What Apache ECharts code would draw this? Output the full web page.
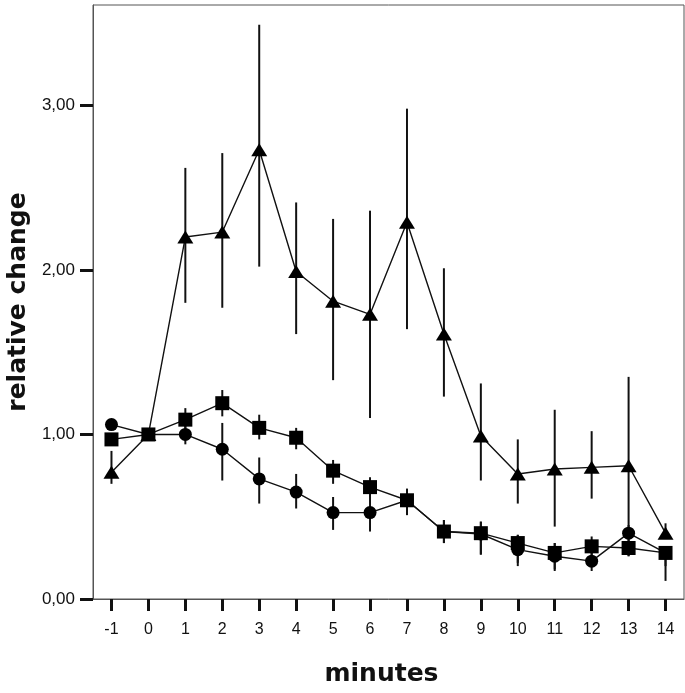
<!DOCTYPE html>
<html>
<head>
<meta charset="utf-8">
<script src="https://cdn.jsdelivr.net/npm/echarts@6/dist/echarts.min.js"></script>
<style>
html,body{margin:0;padding:0;background:#fff;}
#chart{width:685px;height:693px;}
</style>
</head>
<body>
<div id="chart"></div>
<script>
const minutes = ['-1','0','1','2','3','4','5','6','7','8','9','10','11','12','13','14'];

const triangleMean = [0.77, 1.00, 2.20, 2.23, 2.73, 1.99, 1.81, 1.73, 2.29, 1.61, 0.99, 0.76, 0.79, 0.80, 0.81, 0.40];
const triangleLow  = [0.70, 1.00, 1.80, 1.77, 2.02, 1.61, 1.33, 1.10, 1.64, 1.23, 0.72, 0.58, 0.44, 0.61, 0.26, 0.38];
const triangleHigh = [0.90, 1.00, 2.62, 2.71, 3.49, 2.41, 2.31, 2.36, 2.98, 2.01, 1.31, 0.97, 1.15, 1.02, 1.35, 0.46];

const squareMean = [0.97, 1.00, 1.09, 1.19, 1.04, 0.98, 0.78, 0.68, 0.60, 0.41, 0.40, 0.34, 0.28, 0.32, 0.31, 0.28];
const squareLow  = [0.97, 1.00, 1.03, 1.11, 0.97, 0.91, 0.70, 0.62, 0.51, 0.34, 0.27, 0.22, 0.18, 0.20, 0.26, 0.11];
const squareHigh = [0.97, 1.00, 1.16, 1.27, 1.12, 1.04, 0.845, 0.74, 0.67, 0.48, 0.47, 0.39, 0.34, 0.38, 0.33, 0.30];

const circleMean = [1.06, 1.00, 1.00, 0.91, 0.73, 0.65, 0.525, 0.525, 0.60, 0.41, 0.395, 0.30, 0.26, 0.23, 0.40, 0.28];
const circleLow  = [1.06, 1.00, 0.94, 0.72, 0.58, 0.55, 0.42, 0.41, 0.51, 0.34, 0.27, 0.20, 0.17, 0.17, 0.35, 0.20];
const circleHigh = [1.06, 1.00, 1.06, 1.07, 0.86, 0.76, 0.62, 0.63, 0.67, 0.48, 0.47, 0.39, 0.34, 0.30, 0.45, 0.32];

function errData(low, high) {
  return minutes.map((m, i) => [i, low[i], high[i]]);
}

function errSeries(low, high) {
  return {
    type: 'custom',
    data: errData(low, high),
    z: 1,
    silent: true,
    renderItem: function (params, api) {
      const p1 = api.coord([api.value(0), api.value(1)]);
      const p2 = api.coord([api.value(0), api.value(2)]);
      return {
        type: 'line',
        shape: {x1: p1[0], y1: p1[1], x2: p2[0], y2: p2[1]},
        style: {stroke: '#111', lineWidth: 2}
      };
    }
  };
}

function lineSeries(vals, symbol, size) {
  return {
    type: 'line',
    data: vals,
    z: 3,
    symbol: symbol,
    symbolSize: size,
    showAllSymbol: true,
    lineStyle: {color: '#111', width: 1.4},
    itemStyle: {color: '#000', borderWidth: 0},
    emphasis: {disabled: true},
    animation: false
  };
}

const chart = echarts.init(document.getElementById('chart'));
chart.setOption({
  animation: false,
  backgroundColor: '#fff',
  grid: {left: 93, right: 1, top: 5, bottom: 94, show: true, borderColor: '#555', borderWidth: 1,
         containLabel: false, outerBoundsMode: 'none'},
  xAxis: {
    type: 'category',
    data: minutes,
    boundaryGap: true,
    name: 'minutes',
    nameLocation: 'middle',
    nameGap: 63,
    nameTextStyle: {fontFamily: 'DejaVu Sans', fontWeight: 'bold', fontSize: 25, color: '#111', padding: [0, 14, 0, 0]},
    axisLine: {show: true, lineStyle: {color: '#555', width: 1}},
    axisTick: {show: true, alignWithLabel: true, length: 12, lineStyle: {color: '#111', width: 3}},
    axisLabel: {fontFamily: 'Liberation Sans', fontSize: 16, color: '#111', margin: 23},
    splitLine: {show: false}
  },
  yAxis: {
    type: 'value',
    min: 0,
    max: 3.61,
    interval: 1,
    name: 'relative change',
    nameLocation: 'middle',
    nameGap: 61,
    nameRotate: 90,
    nameTextStyle: {fontFamily: 'DejaVu Sans', fontWeight: 'bold', fontSize: 25, color: '#111'},
    axisLine: {show: true, lineStyle: {color: '#555', width: 1}},
    axisTick: {show: true, length: 13, customValues: [0, 1, 2, 3], lineStyle: {color: '#111', width: 3}},
    axisLabel: {
      customValues: [0, 1, 2, 3],
      fontFamily: 'Liberation Sans', fontSize: 17, color: '#111', margin: 18,
      formatter: v => v.toFixed(2).replace('.', ',')
    },
    splitLine: {show: false}
  },
  series: [
    errSeries(triangleLow, triangleHigh),
    errSeries(squareLow, squareHigh),
    errSeries(circleLow, circleHigh),
    lineSeries(triangleMean, 'triangle', [16, 13]),
    lineSeries(squareMean, 'rect', 14),
    lineSeries(circleMean, 'circle', 13)
  ]
});
</script>
</body>
</html>
